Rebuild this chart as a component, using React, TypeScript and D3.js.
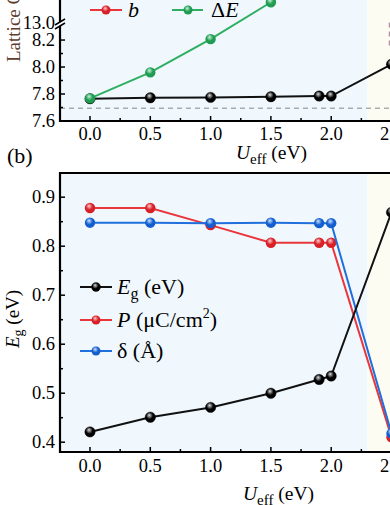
import * as d3 from "d3";

// U_eff values (eV)
const uEff = [0, 0.5, 1.0, 1.5, 1.9, 2.0, 2.5];
const uDeltaE = [0, 0.5, 1.0, 1.5];

// panel (a): lattice
const latticeA = [7.765, 7.772, 7.775, 7.78, 7.785, 7.785, 8.02];
const deltaE = [7.768, 7.96, 8.207, 13.15];
const refLine = 7.695;
const bDash = [8.16, 8.33];

// panel (b)
const gapEg = [0.421, 0.451, 0.471, 0.5, 0.528, 0.535, 0.869];
const polP = [0.878, 0.878, 0.843, 0.807, 0.807, 0.807, 0.41];
const distDelta = [0.848, 0.848, 0.847, 0.848, 0.847, 0.847, 0.418];

const xMajor = [0, 0.5, 1.0, 1.5, 2.0, 2.5];
const xMinor = [0.25, 0.75, 1.25, 1.75, 2.25];
const aMajor = [7.6, 7.8, 8.0, 8.2];
const aMinor = [7.7, 7.9, 8.1];
const bMajor = [0.4, 0.5, 0.6, 0.7, 0.8, 0.9];
const bMinor = [0.45, 0.55, 0.65, 0.75, 0.85];

const RED = "#e8363c";
const GREEN = "#2fae62";
const BLUE = "#1f6fdc";
const BLACK = "#111";
const FONT = "'Liberation Serif', 'Times New Roman', serif";

const W = 390;
const H = 505;
const left = 60;
const shadeEnd = 2.3;

const x = d3.scaleLinear().domain([0, 2.5]).range([90, 391.5]);
const yA = d3.scaleLinear().domain([7.6, 8.33, 13.0, 13.3]).range([121, 22.5, 22.5, -18]);
const yB = d3.scaleLinear().domain([0.38, 0.95]).range([452, 172.7]);

const fmt = d3.format(".1f");

const Ball = ({ cx, cy, color, r = 5.2 }: any) => (
  <circle cx={cx} cy={cy} r={r} fill={`url(#g-${color})`} stroke={color === "k" ? "#000" : "none"} strokeWidth={0.4} />
);

const gradStops: Record<string, [string, string]> = {
  k: ["#e0e0e0", "#000"],
  r: ["#ffd0d0", "#d92027"],
  g: ["#c8f5da", "#1f9c52"],
  b: ["#cfe4ff", "#135fd0"],
};

function Series({ xs, ys, scale, stroke, key2 }: any) {
  const line = d3
    .line<number>()
    .x((d, i) => x(xs[i]))
    .y((d) => scale(d));
  return (
    <g>
      <path d={line(ys) || ""} fill="none" stroke={stroke} strokeWidth={2} />
      {ys.map((v: number, i: number) => (
        <Ball key={i} cx={x(xs[i])} cy={scale(v)} color={key2} />
      ))}
    </g>
  );
}

export default function App() {
  const xShade = x(shadeEnd);
  return (
    <svg
      width={W}
      height={H}
      style={{ position: "absolute", left: 0, top: 0, display: "block", background: "#fff" }}
      fontFamily={FONT}
    >
      <defs>
        {Object.entries(gradStops).map(([k, [c0, c1]]) => (
          <radialGradient key={k} id={`g-${k}`} cx="0.45" cy="0.4" r="0.6" fx="0.4" fy="0.3">
            <stop offset="0%" stopColor={c0} />
            <stop offset="55%" stopColor={c1} />
            <stop offset="100%" stopColor={c1} />
          </radialGradient>
        ))}
      </defs>

      {/* ---------- panel (a) ---------- */}
      <rect x={left} y={0} width={xShade - left} height={121} fill="#f0f8fe" />
      <rect x={xShade} y={0} width={W - xShade} height={121} fill="#fdfcf3" />
      <line x1={left} x2={W} y1={yA(refLine)} y2={yA(refLine)} stroke="#888" strokeWidth={1} strokeDasharray="5,4" />
      <line x1={x(2.5) - 2} x2={x(2.5) - 2} y1={yA(bDash[0])} y2={yA(bDash[1])} stroke="#b98fa8" strokeWidth={1.5} strokeDasharray="5,4" />

      <Series xs={uEff} ys={latticeA} scale={yA} stroke={BLACK} key2="k" />
      <Series xs={uDeltaE} ys={deltaE} scale={yA} stroke={GREEN} key2="g" />

      {/* axes (a) */}
      <line x1={left} x2={left} y1={0} y2={122} stroke="#000" strokeWidth={2.2} />
      <line x1={left - 1} x2={W} y1={121} y2={121} stroke="#000" strokeWidth={2.2} />
      {aMajor.map((t) => (
        <g key={t}>
          <line x1={left} x2={left + 5} y1={yA(t)} y2={yA(t)} stroke="#000" strokeWidth={1.5} />
          <text x={55} y={yA(t) + 6} textAnchor="end" fontSize={18.5}>{fmt(t)}</text>
        </g>
      ))}
      {aMinor.map((t) => (
        <line key={t} x1={left} x2={left + 3} y1={yA(t)} y2={yA(t)} stroke="#000" strokeWidth={1.5} />
      ))}
      <text x={55} y={yA(13.0) + 6} textAnchor="end" fontSize={18.5}>13.0</text>
      {/* axis break */}
      <polygon points={`${left - 5},${25} ${left + 5},${19} ${left + 5},${23} ${left - 5},${29}`} fill="#fff" />
      <line x1={left - 5} y1={25} x2={left + 5} y2={19} stroke="#000" strokeWidth={1.5} />
      <line x1={left - 5} y1={29} x2={left + 5} y2={23} stroke="#000" strokeWidth={1.5} />
      {xMajor.map((t) => (
        <g key={t}>
          <line x1={x(t)} x2={x(t)} y1={121} y2={116} stroke="#000" strokeWidth={1.5} />
          <text x={x(t)} y={140} textAnchor="middle" fontSize={18.5}>{fmt(t)}</text>
        </g>
      ))}
      {xMinor.map((t) => (
        <line key={t} x1={x(t)} x2={x(t)} y1={121} y2={118} stroke="#000" strokeWidth={1.5} />
      ))}
      <text x={236} y={159} fontSize={19.5}>
        <tspan fontStyle="italic">U</tspan>
        <tspan fontSize={15} dy={5}>eff</tspan>
        <tspan dy={-5}> (eV)</tspan>
      </text>
      <text transform="translate(20,62) rotate(-90)" fontSize={19} fill="#5c3d2e">
        Lattice Constant (Å)
      </text>

      {/* legend (a) */}
      <line x1={90} x2={122} y1={10} y2={10} stroke={RED} strokeWidth={2} />
      <Ball cx={106} cy={10} color="r" r={4.5} />
      <text x={128} y={17} fontSize={22} fontStyle="italic">b</text>
      <line x1={172} x2={203} y1={10} y2={10} stroke={GREEN} strokeWidth={2} />
      <Ball cx={188} cy={10} color="g" r={4.5} />
      <text x={211} y={17} fontSize={22}>
        Δ<tspan fontStyle="italic">E</tspan>
      </text>

      <text x={7} y={163} fontSize={22}>(b)</text>

      {/* ---------- panel (b) ---------- */}
      <rect x={left} y={173} width={xShade - left} height={279} fill="#f0f8fe" />
      <rect x={xShade} y={173} width={W - xShade} height={279} fill="#fdfcf3" />

      <Series xs={uEff} ys={polP} scale={yB} stroke={RED} key2="r" />
      <Series xs={uEff} ys={distDelta} scale={yB} stroke={BLUE} key2="b" />
      <Series xs={uEff} ys={gapEg} scale={yB} stroke={BLACK} key2="k" />

      {/* axes (b) */}
      <line x1={left - 1} x2={W} y1={173} y2={173} stroke="#000" strokeWidth={2.2} />
      <line x1={left} x2={left} y1={172} y2={453} stroke="#000" strokeWidth={2.2} />
      <line x1={left - 1} x2={W} y1={452} y2={452} stroke="#000" strokeWidth={2.2} />
      {bMajor.map((t) => (
        <g key={t}>
          <line x1={left} x2={left + 5} y1={yB(t)} y2={yB(t)} stroke="#000" strokeWidth={1.5} />
          <text x={55} y={yB(t) + 6} textAnchor="end" fontSize={18.5}>{fmt(t)}</text>
        </g>
      ))}
      {bMinor.map((t) => (
        <line key={t} x1={left} x2={left + 3} y1={yB(t)} y2={yB(t)} stroke="#000" strokeWidth={1.5} />
      ))}
      {xMajor.map((t) => (
        <g key={t}>
          <line x1={x(t)} x2={x(t)} y1={452} y2={447} stroke="#000" strokeWidth={1.5} />
          <text x={x(t)} y={472} textAnchor="middle" fontSize={18.5}>{fmt(t)}</text>
        </g>
      ))}
      {xMinor.map((t) => (
        <line key={t} x1={x(t)} x2={x(t)} y1={452} y2={449} stroke="#000" strokeWidth={1.5} />
      ))}
      <text x={243} y={500} fontSize={19.5}>
        <tspan fontStyle="italic">U</tspan>
        <tspan fontSize={15} dy={5}>eff</tspan>
        <tspan dy={-5}> (eV)</tspan>
      </text>
      <text transform="translate(19,348) rotate(-90)" fontSize={19}>
        <tspan fontStyle="italic">E</tspan>
        <tspan fontSize={14} dy={4}>g</tspan>
        <tspan dy={-4}> (eV)</tspan>
      </text>

      {/* legend (b) */}
      {[
        { y: 287, c: BLACK, k: "k" },
        { y: 320, c: RED, k: "r" },
        { y: 351, c: BLUE, k: "b" },
      ].map((d) => (
        <g key={d.k}>
          <line x1={80} x2={112} y1={d.y} y2={d.y} stroke={d.c} strokeWidth={2} />
          <Ball cx={96} cy={d.y} color={d.k} r={4.5} />
        </g>
      ))}
      <text x={117} y={294} fontSize={22}>
        <tspan fontStyle="italic">E</tspan>
        <tspan fontSize={16} dy={5}>g</tspan>
        <tspan dy={-5}> (eV)</tspan>
      </text>
      <text x={117} y={327} fontSize={22}>
        <tspan fontStyle="italic">P</tspan>
        <tspan> (μC/cm</tspan>
        <tspan fontSize={14} dy={-9}>2</tspan>
        <tspan dy={9}>)</tspan>
      </text>
      <text x={117} y={358} fontSize={22}>δ (Å)</text>
    </svg>
  );
}
